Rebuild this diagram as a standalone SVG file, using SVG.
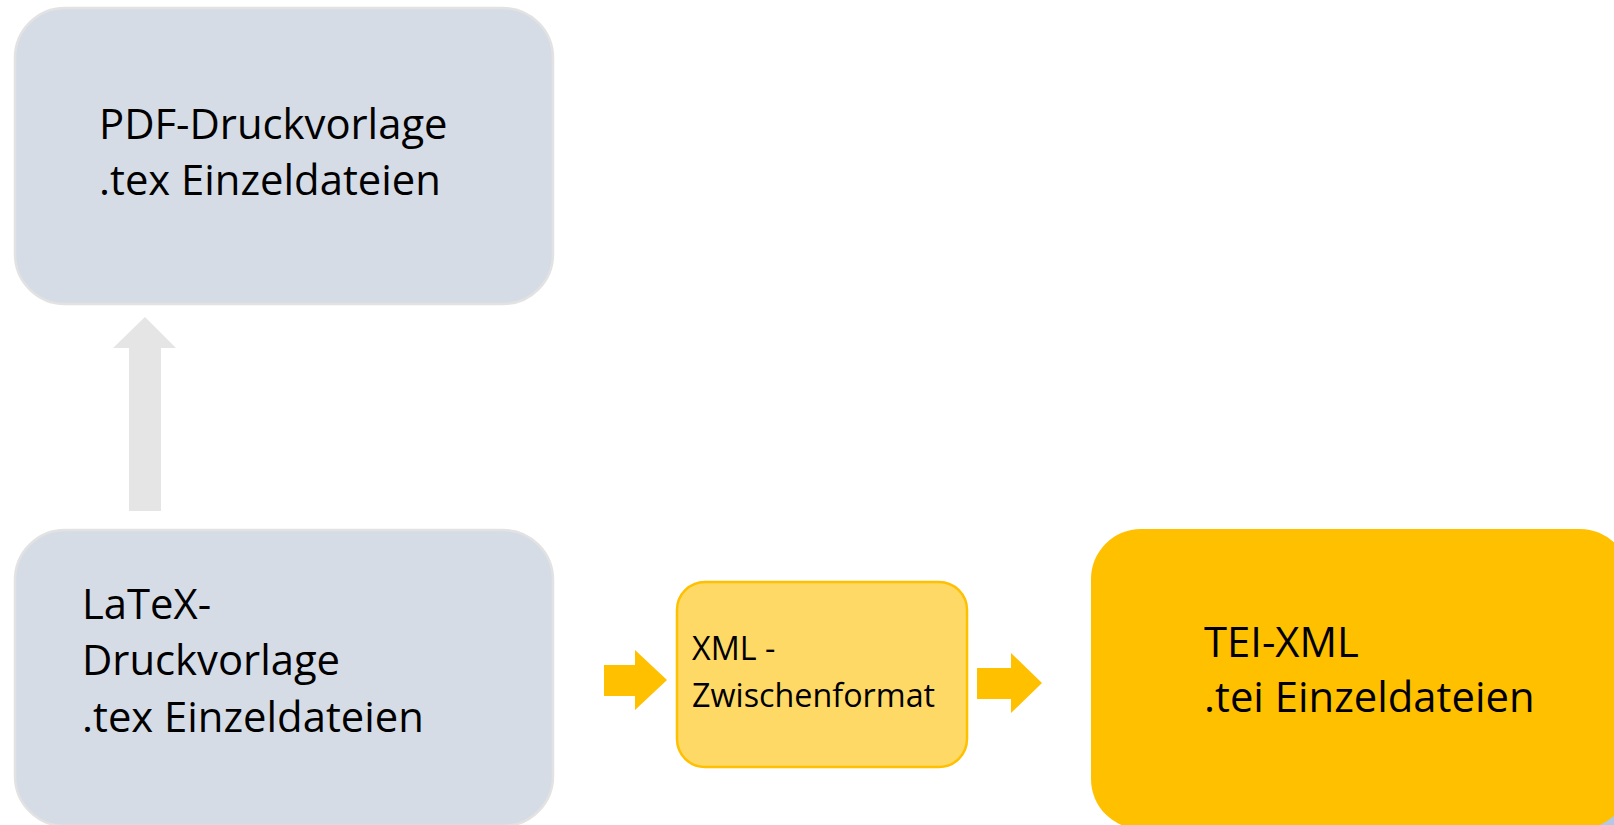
<svg xmlns="http://www.w3.org/2000/svg" width="1614" height="825" viewBox="0 0 1614 825">
<style>
.gray{fill:#d6dce5;stroke:#e2e2e2;stroke-width:2.5}
.mid{fill:#ffd966;stroke:#ffc000;stroke-width:2.5}
.tei{fill:#ffc000}
.t{font-family:"Open Sans","Noto Sans",sans-serif;fill:#000}
.big{font-size:41.8px}
.small{font-size:32.3px}
.garrow{fill:#e5e5e5}
.oarrow{fill:#ffc000}
</style>
<rect width="1614" height="825" fill="#ffffff"/>
<g id="connectors">
<polygon class="garrow" points="129,511 161,511 161,348 176,348 145,317 113,348 129,348"/>
<polygon class="oarrow" points="604,665 635,665 635,650 667,680 635,710 635,696 604,696"/>
<polygon class="oarrow" points="977,668 1011,668 1011,653 1042,683 1011,713 1011,699 977,699"/>
</g>
<g id="node-pdf">
<rect class="gray" x="15" y="8" width="538" height="296" rx="50" ry="50"/>
<text class="t big" x="99" y="139">PDF-Druckvorlage</text>
<text class="t big" x="99" y="195">.tex Einzeldateien</text>
</g>
<g id="node-latex">
<rect class="gray" x="15" y="530" width="538" height="296" rx="50" ry="50"/>
<text class="t big" x="82" y="619">LaTeX-</text>
<text class="t big" x="82" y="675">Druckvorlage</text>
<text class="t big" x="82" y="732">.tex Einzeldateien</text>
</g>
<g id="node-xml">
<rect class="mid" x="677" y="582" width="290" height="185" rx="28" ry="28"/>
<text class="t small" x="692" y="660">XML -</text>
<text class="t small" x="692" y="707">Zwischenformat</text>
</g>
<g id="node-tei">
<rect x="1560" y="790" width="100" height="60" fill="#b4c7e7"/>
<rect class="tei" x="1091" y="529" width="539" height="300" rx="50" ry="50"/>
<text class="t big" x="1204" y="657">TEI-XML</text>
<text class="t big" x="1204" y="712">.tei Einzeldateien</text>
</g>
</svg>
